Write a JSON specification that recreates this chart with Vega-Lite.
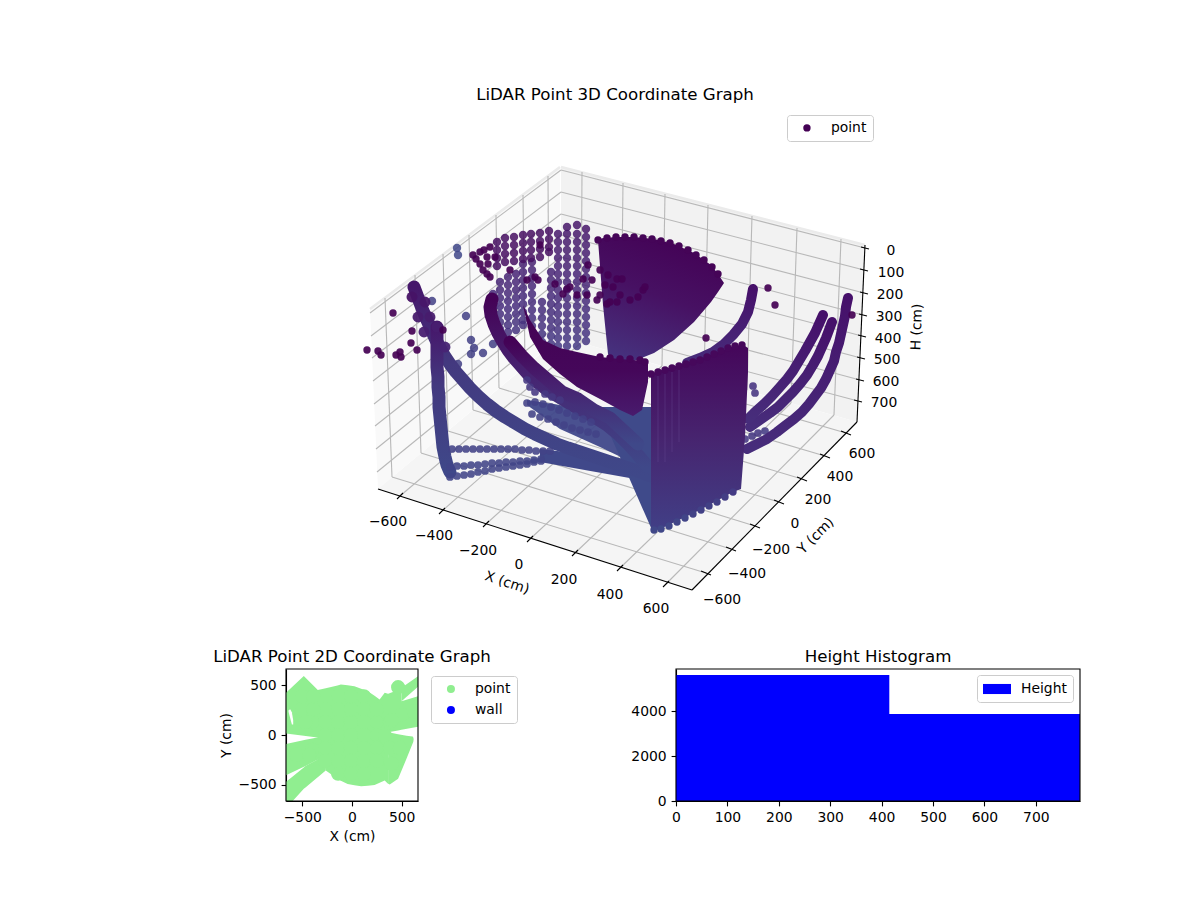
{"$schema":"https://vega.github.io/schema/vega-lite/v6.json","padding":{"left":213,"top":87,"right":10,"bottom":10},"background":"white","bounds":"flush","spacing":27,
"resolve":{"scale":{"color":"independent"},"legend":{"color":"independent"}},
"config":{"font":"DejaVu Sans","view":{"stroke":null},"title":{"fontSize":16.67,"fontWeight":"normal","font":"DejaVu Sans","color":"black"},"axis":{"grid":false,"labelFontSize":13.9,"titleFontSize":13.9,"titleFontWeight":"normal","labelColor":"black","titleColor":"black","tickColor":"black","domainColor":"black","tickSize":4.9,"tickWidth":1.1,"domainWidth":1.1,"labelFlush":false,"labelOverlap":false,"labelPadding":4.9,"titlePadding":5},"legend":{"labelFontSize":13.9,"labelColor":"black"}},
"datasets":{
"far":[{"u":-42,"v":168,"h":230},{"u":-42,"v":160,"h":254},{"u":-42,"v":152,"h":278},{"u":-42,"v":144,"h":302},{"u":-42,"v":136,"h":326},{"u":-42,"v":128,"h":350},{"u":-42,"v":120,"h":374},{"u":-42,"v":112,"h":398},{"u":-42,"v":104,"h":422},{"u":-42,"v":96,"h":446},{"u":-42,"v":88,"h":470},{"u":-42,"v":80,"h":494},{"u":-42,"v":72,"h":518},{"u":-42,"v":64,"h":542},{"u":-42,"v":56,"h":566},
{"u":-33,"v":175,"h":210},{"u":-33,"v":168,"h":230},{"u":-33,"v":160,"h":254},{"u":-33,"v":152,"h":278},{"u":-33,"v":144,"h":302},{"u":-33,"v":136,"h":326},{"u":-33,"v":128,"h":350},{"u":-33,"v":120,"h":374},{"u":-33,"v":112,"h":398},{"u":-33,"v":104,"h":422},{"u":-33,"v":96,"h":446},{"u":-33,"v":88,"h":470},{"u":-33,"v":80,"h":494},{"u":-33,"v":72,"h":518},{"u":-33,"v":64,"h":542},{"u":-33,"v":56,"h":566},
{"u":-23,"v":177,"h":210},{"u":-23,"v":168,"h":230},{"u":-23,"v":160,"h":254},{"u":-23,"v":152,"h":278},{"u":-23,"v":144,"h":302},{"u":-23,"v":136,"h":326},{"u":-23,"v":128,"h":350},{"u":-23,"v":120,"h":374},{"u":-23,"v":112,"h":398},{"u":-23,"v":104,"h":422},{"u":-23,"v":96,"h":446},{"u":-23,"v":88,"h":470},{"u":-23,"v":80,"h":494},{"u":-23,"v":72,"h":518},{"u":-23,"v":64,"h":542},{"u":-23,"v":56,"h":566},
{"u":-14,"v":173,"h":210},{"u":-14,"v":165,"h":240},{"u":-14,"v":157,"h":260},{"u":-14,"v":149,"h":285},{"u":-14,"v":141,"h":310},{"u":-14,"v":133,"h":335},{"u":-14,"v":125,"h":360},{"u":-14,"v":117,"h":385},{"u":-14,"v":109,"h":410},{"u":-14,"v":101,"h":430},{"u":-14,"v":93,"h":455},{"u":-14,"v":85,"h":480},{"u":-14,"v":77,"h":505},{"u":-14,"v":69,"h":525},{"u":-14,"v":61,"h":550},
{"u":-107,"v":108,"h":410},{"u":-107,"v":100,"h":434},{"u":-107,"v":93,"h":455},
{"u":-100,"v":120,"h":374},{"u":-100,"v":112,"h":398},{"u":-100,"v":104,"h":422},{"u":-100,"v":96,"h":446},{"u":-100,"v":88,"h":470},{"u":-100,"v":80,"h":494},{"u":-100,"v":73,"h":515},
{"u":-92,"v":125,"h":359},{"u":-92,"v":117,"h":383},{"u":-92,"v":109,"h":407},{"u":-92,"v":101,"h":431},{"u":-92,"v":93,"h":455},{"u":-92,"v":85,"h":479},{"u":-92,"v":77,"h":503},{"u":-92,"v":70,"h":524},
{"u":-84,"v":128,"h":350},{"u":-84,"v":120,"h":374},{"u":-84,"v":112,"h":398},{"u":-84,"v":104,"h":422},{"u":-84,"v":96,"h":446},{"u":-84,"v":88,"h":470},{"u":-84,"v":80,"h":494},{"u":-84,"v":72,"h":518},
{"u":-77,"v":138,"h":320},{"u":-77,"v":130,"h":344},{"u":-77,"v":122,"h":368},{"u":-77,"v":114,"h":392},{"u":-77,"v":106,"h":416},{"u":-77,"v":98,"h":440},{"u":-77,"v":90,"h":464},{"u":-77,"v":82,"h":488},{"u":-77,"v":77,"h":503},
{"u":-68,"v":140,"h":314},{"u":-68,"v":132,"h":338},{"u":-68,"v":124,"h":362},{"u":-68,"v":116,"h":386},{"u":-68,"v":108,"h":410},{"u":-68,"v":100,"h":434},{"u":-68,"v":92,"h":458},{"u":-68,"v":84,"h":482},{"u":-68,"v":76,"h":506},
{"u":-58,"v":100,"h":434},{"u":-58,"v":92,"h":458},{"u":-58,"v":84,"h":482},{"u":-58,"v":76,"h":506},{"u":-58,"v":68,"h":530},{"u":-58,"v":60,"h":554},{"u":-58,"v":53,"h":575},
{"u":-49,"v":130,"h":344},{"u":-49,"v":122,"h":368},{"u":-49,"v":114,"h":392},{"u":-49,"v":106,"h":416},{"u":-49,"v":98,"h":440},{"u":-49,"v":90,"h":464},{"u":-49,"v":82,"h":488},{"u":-49,"v":74,"h":512},{"u":-49,"v":66,"h":536},{"u":-49,"v":58,"h":560},{"u":-49,"v":50,"h":584},
{"u":-103,"v":160,"h":130},{"u":-103,"v":152,"h":130},{"u":-103,"v":144,"h":130},{"u":-103,"v":136,"h":130},{"u":-95,"v":164,"h":130},{"u":-95,"v":156,"h":130},{"u":-95,"v":148,"h":130},{"u":-95,"v":140,"h":130},{"u":-86,"v":165,"h":130},{"u":-86,"v":157,"h":130},{"u":-86,"v":149,"h":130},{"u":-86,"v":141,"h":130},{"u":-77,"v":167,"h":130},{"u":-77,"v":159,"h":130},{"u":-77,"v":151,"h":130},{"u":-77,"v":143,"h":130},{"u":-69,"v":168,"h":130},{"u":-69,"v":160,"h":130},{"u":-69,"v":152,"h":130},{"u":-69,"v":144,"h":130},{"u":-60,"v":169,"h":130},{"u":-60,"v":161,"h":130},{"u":-60,"v":153,"h":130},{"u":-60,"v":145,"h":130},{"u":-51,"v":171,"h":130},{"u":-51,"v":163,"h":130},{"u":-51,"v":155,"h":130},{"u":-51,"v":150,"h":130},
{"u":-143,"v":154,"h":720},{"u":-142,"v":147,"h":720},{"u":-168,"v":101,"h":650},{"u":-134,"v":86,"h":650},{"u":-129,"v":62,"h":650},{"u":-126,"v":54,"h":650},{"u":-129,"v":48,"h":650},{"u":-117,"v":49,"h":650},{"u":-107,"v":58,"h":650},{"u":-142,"v":38,"h":650}],
"arcL":[{"s":"a","u":-186,"v":115},{"s":"a","u":-183,"v":107},{"s":"a","u":-180,"v":99},{"s":"a","u":-177,"v":91},{"s":"a","u":-173,"v":82},{"s":"a","u":-169,"v":73},{"s":"a","u":-165,"v":64},{"s":"a","u":-161,"v":56},{"s":"a","u":-156,"v":47},{"s":"a","u":-150,"v":38},{"s":"a","u":-144,"v":30},{"s":"a","u":-137,"v":22},{"s":"a","u":-130,"v":14},{"s":"a","u":-122,"v":6},{"s":"a","u":-113,"v":-2},{"s":"a","u":-104,"v":-9},{"s":"a","u":-95,"v":-15},{"s":"a","u":-85,"v":-21},{"s":"a","u":-75,"v":-27},{"s":"a","u":-65,"v":-32},{"s":"a","u":-54,"v":-37},{"s":"a","u":-43,"v":-42},{"s":"a","u":-32,"v":-46},{"s":"a","u":-20,"v":-50},{"s":"a","u":-8,"v":-54},{"s":"a","u":4,"v":-58},{"s":"a","u":16,"v":-62},{"s":"a","u":28,"v":-66},{"s":"a","u":40,"v":-70},{"s":"a","u":50,"v":-74},
{"s":"b","u":-163,"v":75},{"s":"b","u":-163,"v":55},{"s":"b","u":-163,"v":45},{"s":"b","u":-163,"v":35},{"s":"b","u":-162,"v":25},{"s":"b","u":-162,"v":15},{"s":"b","u":-161,"v":5},{"s":"b","u":-161,"v":-5},{"s":"b","u":-160,"v":-15},{"s":"b","u":-159,"v":-25},{"s":"b","u":-158,"v":-35},{"s":"b","u":-157,"v":-45},{"s":"b","u":-155,"v":-55},{"s":"b","u":-153,"v":-63},{"s":"b","u":-150,"v":-70}],
"arcL3":[{"s":"a","u":-108,"v":103},{"s":"a","u":-110,"v":95},{"s":"a","u":-109,"v":87},{"s":"a","u":-106,"v":78},{"s":"a","u":-102,"v":69},{"s":"a","u":-97,"v":60},{"s":"a","u":-92,"v":52},{"s":"a","u":-86,"v":44},{"s":"a","u":-79,"v":36},{"s":"a","u":-72,"v":28},{"s":"a","u":-64,"v":21},{"s":"a","u":-55,"v":14},{"s":"a","u":-46,"v":8},{"s":"a","u":-36,"v":2},{"s":"a","u":-26,"v":-4},{"s":"a","u":-15,"v":-10},{"s":"a","u":-4,"v":-16},{"s":"a","u":7,"v":-23},{"s":"a","u":18,"v":-32},{"s":"a","u":28,"v":-42},{"s":"a","u":38,"v":-53},{"s":"a","u":48,"v":-65},
{"s":"b","u":-90,"v":60},{"s":"b","u":-78,"v":46},{"s":"b","u":-66,"v":34},{"s":"b","u":-52,"v":22},{"s":"b","u":-38,"v":10},{"s":"b","u":-22,"v":3},{"s":"b","u":-6,"v":-8},{"s":"b","u":10,"v":-16},{"s":"b","u":25,"v":-30},{"s":"b","u":38,"v":-42}],
"arcR":[{"s":"a","u":248,"v":104},{"s":"a","u":246,"v":95},{"s":"a","u":245,"v":86},{"s":"a","u":243,"v":77},{"s":"a","u":241,"v":68},{"s":"a","u":239,"v":59},{"s":"a","u":236,"v":50},{"s":"a","u":234,"v":41},{"s":"a","u":230,"v":32},{"s":"a","u":226,"v":23},{"s":"a","u":221,"v":14},{"s":"a","u":215,"v":6},{"s":"a","u":209,"v":-2},{"s":"a","u":202,"v":-10},{"s":"a","u":194,"v":-17},{"s":"a","u":186,"v":-23},{"s":"a","u":177,"v":-30},{"s":"a","u":167,"v":-37},{"s":"a","u":157,"v":-42},{"s":"a","u":147,"v":-47},
{"s":"b","u":232,"v":80},{"s":"b","u":229,"v":72},{"s":"b","u":226,"v":64},{"s":"b","u":222,"v":55},{"s":"b","u":218,"v":46},{"s":"b","u":213,"v":37},{"s":"b","u":207,"v":27},{"s":"b","u":200,"v":18},{"s":"b","u":193,"v":10},{"s":"b","u":186,"v":3},{"s":"b","u":178,"v":-5},{"s":"b","u":170,"v":-11},{"s":"b","u":160,"v":-18},{"s":"b","u":150,"v":-25},
{"s":"c","u":223,"v":87},{"s":"c","u":219,"v":78},{"s":"c","u":215,"v":69},{"s":"c","u":210,"v":60},{"s":"c","u":205,"v":51},{"s":"c","u":199,"v":41},{"s":"c","u":193,"v":31},{"s":"c","u":187,"v":23},{"s":"c","u":180,"v":15},{"s":"c","u":172,"v":6},{"s":"c","u":164,"v":-2},{"s":"c","u":155,"v":-10},{"s":"c","u":148,"v":-17},
{"s":"d","u":153,"v":113},{"s":"d","u":151,"v":102},{"s":"d","u":148,"v":90},{"s":"d","u":142,"v":78},{"s":"d","u":133,"v":67},{"s":"d","u":124,"v":58},{"s":"d","u":113,"v":50},{"s":"d","u":100,"v":44},{"s":"d","u":87,"v":39}],
"midPts":[{"u":-175,"v":100,"h":200},{"u":-170,"v":85,"h":250},{"u":-163,"v":75,"h":280},{"u":-155,"v":55,"h":340},{"u":-188,"v":105,"h":170},{"u":-182,"v":85,"h":240},{"u":-176,"v":70,"h":300}],
"smallA":[{"u":-148,"v":-47,"h":680},{"u":-141,"v":-47,"h":680},{"u":-134,"v":-47,"h":680},{"u":-127,"v":-47,"h":680},{"u":-120,"v":-47,"h":680},{"u":-113,"v":-47,"h":680},{"u":-106,"v":-47,"h":680},{"u":-99,"v":-47,"h":680},{"u":-92,"v":-47,"h":680},{"u":-85,"v":-47,"h":680},{"u":-78,"v":-48,"h":680},{"u":-71,"v":-48,"h":680},{"u":-64,"v":-49,"h":680},{"u":-57,"v":-49,"h":680},{"u":-50,"v":-49,"h":680},
{"u":-150,"v":-65,"h":700},{"u":-143,"v":-64,"h":700},{"u":-136,"v":-64,"h":700},{"u":-129,"v":-63,"h":700},{"u":-122,"v":-63,"h":700},{"u":-115,"v":-62,"h":700},{"u":-108,"v":-61,"h":700},{"u":-101,"v":-61,"h":700},{"u":-94,"v":-60,"h":700},{"u":-87,"v":-60,"h":700},{"u":-80,"v":-59,"h":700},{"u":-73,"v":-59,"h":700},{"u":-66,"v":-58,"h":700},{"u":-59,"v":-57,"h":700},
{"u":-150,"v":-75,"h":700},{"u":-143,"v":-74,"h":700},{"u":-136,"v":-73,"h":700},{"u":-129,"v":-72,"h":700},{"u":-122,"v":-70,"h":700},{"u":-115,"v":-69,"h":700},{"u":-108,"v":-67,"h":700},{"u":-101,"v":-66,"h":700},{"u":-94,"v":-65,"h":700},{"u":-87,"v":-64,"h":700},{"u":-80,"v":-63,"h":700},{"u":-73,"v":-62,"h":700},{"u":-66,"v":-60,"h":700},{"u":-59,"v":-59,"h":700},
{"u":-73,"v":-1,"h":660},{"u":-65,"v":0,"h":660},{"u":-57,"v":-2,"h":660},{"u":-49,"v":-5,"h":660},{"u":-41,"v":-8,"h":660},{"u":-33,"v":-11,"h":660},{"u":-25,"v":-14,"h":660},{"u":-17,"v":-17,"h":660},{"u":-9,"v":-20,"h":660},
{"u":-68,"v":-12,"h":680},{"u":-60,"v":-15,"h":680},{"u":-52,"v":-17,"h":680},{"u":-44,"v":-20,"h":680},{"u":-36,"v":-23,"h":680},{"u":-28,"v":-26,"h":680},{"u":-20,"v":-28,"h":680},{"u":-12,"v":-30,"h":680},{"u":-4,"v":-32,"h":680},
{"u":-73,"v":22,"h":560},{"u":-70,"v":15,"h":560},{"u":-65,"v":10,"h":560},{"u":-55,"v":8,"h":560},{"u":-48,"v":5,"h":560},{"u":-40,"v":2,"h":560},
{"u":153,"v":16,"h":500},{"u":155,"v":9,"h":520},{"u":145,"v":-37,"h":560},{"u":152,"v":-34,"h":560},{"u":158,"v":-31,"h":560},{"u":165,"v":-29,"h":600}],
"sheetS":[{"u":-2,"v":162,"h":40},{"u":7,"v":164,"h":40},{"u":16,"v":165,"h":40},{"u":25,"v":165,"h":40},{"u":34,"v":165,"h":35},{"u":43,"v":164,"h":35},{"u":52,"v":163,"h":35},{"u":61,"v":161,"h":30},{"u":70,"v":159,"h":30},{"u":79,"v":156,"h":30},{"u":88,"v":152,"h":30},{"u":96,"v":147,"h":30},{"u":104,"v":142,"h":30},{"u":112,"v":135,"h":30},{"u":118,"v":128,"h":30},
{"u":0,"v":45,"h":30},{"u":10,"v":44,"h":30},{"u":20,"v":43,"h":30},{"u":30,"v":43,"h":30},{"u":40,"v":42,"h":30},{"u":45,"v":40,"h":30},
{"u":51,"v":28,"h":60},{"u":58,"v":30,"h":60},{"u":65,"v":32,"h":60},{"u":72,"v":34,"h":60},{"u":79,"v":36,"h":60},{"u":86,"v":38,"h":60},{"u":93,"v":40,"h":60},{"u":100,"v":42,"h":60},{"u":107,"v":45,"h":60},{"u":114,"v":48,"h":60},{"u":121,"v":51,"h":60},{"u":128,"v":54,"h":60},{"u":135,"v":56,"h":60},{"u":142,"v":57,"h":60},
{"u":133,"v":-90,"h":600},{"u":125,"v":-95,"h":620},{"u":117,"v":-100,"h":640},{"u":109,"v":-104,"h":650},{"u":101,"v":-108,"h":670},{"u":93,"v":-112,"h":680},{"u":85,"v":-116,"h":700},{"u":77,"v":-120,"h":710},{"u":69,"v":-124,"h":720},{"u":61,"v":-127,"h":730},{"u":54,"v":-128,"h":740}],
"dark":[{"u":-207,"v":89},{"u":-233,"v":52},{"u":-222,"v":51},{"u":-219,"v":47},{"u":-204,"v":47},{"u":-200,"v":50},{"u":-199,"v":45},{"u":-189,"v":59},{"u":-188,"v":71},{"u":-183,"v":52},{"u":-157,"v":72},{"u":-60,"v":157},{"u":168,"v":114},{"u":175,"v":97},{"u":252,"v":87},{"u":106,"v":64},
{"u":-127,"v":147},{"u":-124,"v":143},{"u":-120,"v":150},{"u":-116,"v":152},{"u":-120,"v":138},{"u":-117,"v":132},{"u":-113,"v":128},{"u":-110,"v":125},{"u":-113,"v":145},{"u":-112,"v":138},{"u":-110,"v":155},{"u":-105,"v":145},
{"u":-33,"v":113},{"u":-30,"v":115},{"u":-17,"v":123},{"u":-8,"v":122},{"u":0,"v":132},{"u":8,"v":127},{"u":17,"v":123},{"u":-37,"v":108},{"u":-23,"v":107},{"u":-13,"v":107},{"u":-3,"v":102},{"u":7,"v":98},{"u":17,"v":100},{"u":-12,"v":137},{"u":-45,"v":118},{"u":-65,"v":125},{"u":-73,"v":122},{"u":-62,"v":122},{"u":-90,"v":132},{"u":22,"v":123},{"u":20,"v":107},{"u":30,"v":102},{"u":38,"v":105},{"u":43,"v":112},{"u":45,"v":115},{"u":10,"v":100},{"u":0,"v":107},{"u":13,"v":115},{"u":5,"v":117}],
"grid":[{"u":-200,"v":-94,"a":-19,"b":59},{"u":-158,"v":-109,"a":21,"b":48},{"u":-114,"v":-122,"a":62,"b":36},{"u":-70,"v":-137,"a":104,"b":24},{"u":-25,"v":-151,"a":147,"b":12},{"u":20,"v":-166,"a":191,"b":-1},{"u":66,"v":-182,"a":234,"b":-13},
{"u":-19,"v":59,"a":-18,"b":230},{"u":21,"v":48,"a":23,"b":219},{"u":62,"v":36,"a":65,"b":208},{"u":104,"v":24,"a":108,"b":197},{"u":147,"v":12,"a":152,"b":186},{"u":191,"v":-1,"a":197,"b":174},{"u":234,"v":-13,"a":241,"b":163},
{"u":106,"v":-171,"a":-208,"b":-75},{"u":131,"v":-147,"a":-179,"b":-51},{"u":155,"v":-124,"a":-152,"b":-29},{"u":179,"v":-100,"a":-127,"b":-8},{"u":202,"v":-77,"a":-101,"b":14},{"u":225,"v":-54,"a":-75,"b":35},{"u":246,"v":-31,"a":-51,"b":55},
{"u":-208,"v":-75,"a":-215,"b":104},{"u":-179,"v":-51,"a":-185,"b":127},{"u":-152,"v":-29,"a":-157,"b":148},{"u":-127,"v":-8,"a":-131,"b":167},{"u":-101,"v":14,"a":-104,"b":187},{"u":-75,"v":35,"a":-77,"b":207},{"u":-51,"v":55,"a":-52,"b":226},
{"u":-230,"v":89,"a":-39,"b":232},{"u":-229,"v":66,"a":-39,"b":210},{"u":-228,"v":44,"a":-39,"b":188},{"u":-227,"v":21,"a":-39,"b":167},{"u":-226,"v":-2,"a":-39,"b":145},{"u":-225,"v":-24,"a":-39,"b":123},{"u":-224,"v":-47,"a":-39,"b":102},{"u":-223,"v":-70,"a":-39,"b":80},
{"u":-39,"v":232,"a":265,"b":154},{"u":-39,"v":210,"a":264,"b":132},{"u":-39,"v":188,"a":264,"b":109},{"u":-39,"v":167,"a":263,"b":87},{"u":-39,"v":145,"a":262,"b":66},{"u":-39,"v":123,"a":261,"b":44},{"u":-39,"v":102,"a":260,"b":22},{"u":-39,"v":80,"a":258,"b":1}],
"axes3d":[{"u":-222,"v":-87,"a":92,"b":-188},{"u":92,"v":-188,"a":257,"b":-20},{"u":257,"v":-20,"a":265,"b":157},
{"u":-203,"v":-97,"a":-197,"b":-91},{"u":-161,"v":-112,"a":-155,"b":-106},{"u":-117,"v":-125,"a":-111,"b":-119},{"u":-73,"v":-140,"a":-67,"b":-134},{"u":-28,"v":-154,"a":-22,"b":-148},{"u":17,"v":-169,"a":23,"b":-163},{"u":63,"v":-185,"a":69,"b":-179},
{"u":101,"v":-169,"a":111,"b":-173},{"u":126,"v":-145,"a":136,"b":-149},{"u":150,"v":-122,"a":160,"b":-126},{"u":174,"v":-98,"a":184,"b":-102},{"u":197,"v":-75,"a":207,"b":-79},{"u":220,"v":-52,"a":230,"b":-56},{"u":241,"v":-29,"a":251,"b":-33},
{"u":261,"v":155,"a":269,"b":153},{"u":260,"v":133,"a":268,"b":131},{"u":260,"v":110,"a":268,"b":108},{"u":259,"v":88,"a":267,"b":86},{"u":258,"v":67,"a":266,"b":65},{"u":257,"v":45,"a":265,"b":43},{"u":256,"v":23,"a":264,"b":21},{"u":254,"v":2,"a":262,"b":0}],
"labels3d":[{"u":-212,"v":-120,"t":"−600"},{"u":-166,"v":-134,"t":"−400"},{"u":-122,"v":-149,"t":"−200"},{"u":-81,"v":-163,"t":"0"},{"u":-36,"v":-178,"t":"200"},{"u":10,"v":-193,"t":"400"},{"u":56,"v":-207,"t":"600"},
{"u":122,"v":-198,"t":"−600"},{"u":147,"v":-172,"t":"−400"},{"u":171,"v":-148,"t":"−200"},{"u":195,"v":-122,"t":"0"},{"u":218,"v":-98,"t":"200"},{"u":240,"v":-75,"t":"400"},{"u":262,"v":-52,"t":"600"},
{"u":291,"v":151,"t":"0"},{"u":291,"v":129,"t":"100"},{"u":290,"v":107,"t":"200"},{"u":289,"v":85,"t":"300"},{"u":288,"v":63,"t":"400"},{"u":287,"v":42,"t":"500"},{"u":286,"v":20,"t":"600"},{"u":284,"v":-1,"t":"700"}],
"cover":[{"X":-400,"Y":130},{"X":-270,"Y":130},{"X":-140,"Y":130},{"X":-10,"Y":130},{"X":120,"Y":130},{"X":250,"Y":130},{"X":380,"Y":130},{"X":-270,"Y":0},{"X":-140,"Y":0},{"X":-10,"Y":0},{"X":120,"Y":0},{"X":250,"Y":0},{"X":330,"Y":-5},{"X":-400,"Y":-150},{"X":-270,"Y":-130},{"X":-140,"Y":-130},{"X":-10,"Y":-130},{"X":120,"Y":-130},{"X":250,"Y":-130},{"X":380,"Y":-130},{"X":-270,"Y":260},{"X":-140,"Y":260},{"X":-10,"Y":260},{"X":120,"Y":260},{"X":250,"Y":260},{"X":-270,"Y":-260},{"X":-140,"Y":-260},{"X":-10,"Y":-260},{"X":120,"Y":-260},{"X":250,"Y":-260},{"X":-140,"Y":390},{"X":-10,"Y":390},{"X":120,"Y":390},{"X":-140,"Y":-390},{"X":-10,"Y":-390},{"X":120,"Y":-390},{"X":-470,"Y":130},{"X":-500,"Y":260},{"X":-500,"Y":390},{"X":-390,"Y":260},{"X":-390,"Y":390},{"X":-560,"Y":-200},{"X":-430,"Y":-200},{"X":500,"Y":200},{"X":620,"Y":240},{"X":400,"Y":150},{"X":480,"Y":-130},{"X":400,"Y":-290},{"X":464,"Y":481}],
"outline":[{"p":"a","X":-666,"Y":424,"W":16},{"p":"a","X":-485,"Y":593,"W":-7},{"p":"a","X":-349,"Y":457,"W":-24},{"p":"a","X":-345,"Y":452,"W":-30},{"p":"a","X":-264,"Y":470,"W":-356},{"p":"a","X":-146,"Y":497,"W":-441},{"p":"a","X":-112,"Y":508,"W":-460},{"p":"a","X":-44,"Y":500,"W":-492},{"p":"a","X":24,"Y":491,"W":-505},{"p":"a","X":92,"Y":465,"W":-515},{"p":"a","X":159,"Y":441,"W":-510},{"p":"a","X":227,"Y":395,"W":-502},{"p":"a","X":278,"Y":356,"W":-480},{"p":"a","X":329,"Y":424,"W":-458},{"p":"a","X":362,"Y":415,"W":-490},{"p":"a","X":364,"Y":415,"W":27},{"p":"a","X":464,"Y":453,"W":46},{"p":"a","X":497,"Y":475,"W":52},{"p":"a","X":498,"Y":339,"W":53},{"p":"a","X":668,"Y":390,"W":85},
{"p":"b","X":498,"Y":476,"W":339},{"p":"b","X":668,"Y":593,"W":490},
{"p":"c","X":363,"Y":27,"W":-490},{"p":"c","X":380,"Y":24,"W":-498},{"p":"c","X":464,"Y":8,"W":-440},{"p":"c","X":549,"Y":-8,"W":-237},{"p":"c","X":610,"Y":-16,"W":-85},{"p":"c","X":617,"Y":-25,"W":-68},{"p":"c","X":620,"Y":-40,"W":-45},
{"p":"d","X":-666,"Y":-91,"W":-405},{"p":"d","X":-468,"Y":-48,"W":-312},{"p":"d","X":-349,"Y":-24,"W":-250},{"p":"d","X":-300,"Y":-30,"W":-300},
{"p":"e","X":-666,"Y":-473,"W":-720},{"p":"e","X":-603,"Y":-422,"W":-671},{"p":"e","X":-485,"Y":-326,"W":-542},{"p":"e","X":-468,"Y":-312,"W":-528},{"p":"e","X":-264,"Y":-200,"W":-356}],
"hole":[{"X":-638,"Y":250,"W":235},{"X":-622,"Y":260,"W":170},{"X":-605,"Y":230,"W":105},{"X":-592,"Y":150,"W":105}]
},
"vconcat":[
{"width":794,"height":534,"title":{"text":"LiDAR Point 3D Coordinate Graph","dx":-68,"offset":4},
"encoding":{"x":{"field":"u","type":"quantitative","scale":{"domain":[-314,480],"nice":false,"zero":false},"axis":null},"y":{"field":"v","type":"quantitative","scale":{"domain":[-240,294],"nice":false,"zero":false},"axis":null}},
"resolve":{"scale":{"color":"independent"}},
"layer":[
{"data":{"values":[{"u":-230,"v":93,"w":93},{"u":-222,"v":99,"w":-87},{"u":-40,"v":235,"w":65}]},"mark":{"type":"area","color":"#f9f9f9"},"encoding":{"y2":{"field":"w"}}},
{"data":{"values":[{"u":-39,"v":235,"w":65},{"u":257,"v":159,"w":-20},{"u":265,"v":157,"w":157}]},"mark":{"type":"area","color":"#f2f2f2"},"encoding":{"y2":{"field":"w"}}},
{"data":{"values":[{"u":-222,"v":-87,"w":-87},{"u":-39,"v":65,"w":-146},{"u":92,"v":27,"w":-188},{"u":257,"v":-20,"w":-20}]},"mark":{"type":"area","color":"#f5f5f5"},"encoding":{"y2":{"field":"w"}}},
{"data":{"values":[{"u":-230,"v":93,"a":-40,"b":235},{"u":-39,"v":235,"a":265,"b":157}]},"mark":{"type":"rule","color":"#ebebeb","strokeWidth":2.5},"encoding":{"x2":{"field":"a"},"y2":{"field":"b"}}},
{"data":{"name":"grid"},"mark":{"type":"rule","color":"#b8b8b8","strokeWidth":1.1},"encoding":{"x2":{"field":"a"},"y2":{"field":"b"}}},
{"data":{"name":"axes3d"},"mark":{"type":"rule","color":"black","strokeWidth":1.1},"encoding":{"x2":{"field":"a"},"y2":{"field":"b"}}},
{"data":{"name":"labels3d"},"mark":{"type":"text","fontSize":13.9,"color":"black","align":"center","baseline":"middle"},"encoding":{"text":{"field":"t"}}},
{"data":{"values":[{"u":-93,"v":-181,"t":"X (cm)"}]},"mark":{"type":"text","fontSize":13.9,"color":"black","angle":18,"align":"center","baseline":"middle"},"encoding":{"text":{"field":"t"}}},
{"data":{"values":[{"u":216,"v":-134,"t":"Y (cm)"}]},"mark":{"type":"text","fontSize":13.9,"color":"black","angle":315,"align":"center","baseline":"middle"},"encoding":{"text":{"field":"t"}}},
{"data":{"values":[{"u":317,"v":75,"t":"H (cm)"}]},"mark":{"type":"text","fontSize":13.9,"color":"black","angle":272,"align":"center","baseline":"middle"},"encoding":{"text":{"field":"t"}}},
{"data":{"name":"far"},"mark":{"type":"circle","size":70,"opacity":0.85},"encoding":{"color":{"field":"h","type":"quantitative","legend":null,"scale":{"scheme":"viridis","domain":[0,3500]}}}},
{"data":{"values":[{"u":-73,"v":2,"w":-3},{"u":-40,"v":-3,"w":-27},{"u":0,"v":-15,"w":-45},{"u":52,"v":-25,"w":-70}]},"mark":{"type":"area","color":"#40488a","opacity":0.95},"encoding":{"y2":{"field":"w"}}},
{"data":{"values":[{"u":-60,"v":-47,"w":-60},{"u":52,"v":-60,"w":-80}]},"mark":{"type":"area","color":"#40488a"},"encoding":{"y2":{"field":"w"}}},
{"data":{"values":[{"u":-2,"v":-5,"w":-5},{"u":52,"v":-5,"w":-128}]},"mark":{"type":"area","color":"#3f4a8a"},"encoding":{"y2":{"field":"w"}}},
{"data":{"name":"arcL"},"mark":{"type":"line","strokeWidth":13,"strokeCap":"round","strokeJoin":"round","stroke":{"gradient":"linear","x1":0,"y1":0,"x2":0,"y2":1,"stops":[{"offset":0,"color":"#46176b"},{"offset":0.4,"color":"#43397f"},{"offset":1,"color":"#3f4889"}]}},"encoding":{"detail":{"field":"s"},"order":{"value":null}}},
{"data":{"name":"arcL3"},"mark":{"type":"line","strokeWidth":13,"strokeCap":"round","strokeJoin":"round","stroke":{"gradient":"linear","x1":0,"y1":0,"x2":0,"y2":1,"stops":[{"offset":0,"color":"#440256"},{"offset":0.4,"color":"#47206f"},{"offset":1,"color":"#3f4889"}]}},"encoding":{"detail":{"field":"s"},"order":{"value":null}}},
{"data":{"name":"midPts"},"mark":{"type":"circle","size":120,"opacity":0.95},"encoding":{"color":{"field":"h","type":"quantitative","legend":null,"scale":{"scheme":"viridis","domain":[0,3500]}}}},
{"data":{"name":"smallA"},"mark":{"type":"circle","size":60,"opacity":0.88},"encoding":{"color":{"field":"h","type":"quantitative","legend":null,"scale":{"scheme":"viridis","domain":[0,3500]}}}},
{"data":{"name":"arcR"},"mark":{"type":"line","strokeWidth":10,"strokeCap":"round","strokeJoin":"round","stroke":{"gradient":"linear","x1":0,"y1":0,"x2":0,"y2":1,"stops":[{"offset":0,"color":"#46106a"},{"offset":1,"color":"#472d7b"}]}},"encoding":{"detail":{"field":"s"},"order":{"value":null}}},
{"data":{"values":[{"u":-2,"v":162,"w":162},{"u":3,"v":164,"w":97},{"u":8,"v":164,"w":48},{"u":14,"v":165,"w":38},{"u":34,"v":165,"w":41},{"u":54,"v":163,"w":49},{"u":74,"v":158,"w":62},{"u":94,"v":149,"w":80},{"u":111,"v":137,"w":100},{"u":118,"v":128,"w":110},{"u":124,"v":119,"w":119}]},"mark":{"type":"area","color":{"gradient":"linear","x1":0.6,"y1":0,"x2":0.25,"y2":1,"stops":[{"offset":0,"color":"#440256"},{"offset":0.45,"color":"#471163"},{"offset":1,"color":"#46337f"}]}},"encoding":{"y2":{"field":"w"}}},
{"data":{"values":[{"u":-77,"v":97,"w":97},{"u":-70,"v":82,"w":65},{"u":-57,"v":62,"w":43},{"u":-40,"v":54,"w":28},{"u":-23,"v":50,"w":15},{"u":0,"v":45,"w":3},{"u":20,"v":43,"w":-8},{"u":33,"v":42,"w":-14},{"u":42,"v":41,"w":-8},{"u":48,"v":38,"w":20}]},"mark":{"type":"area","color":{"gradient":"linear","x1":0,"y1":0,"x2":0,"y2":1,"stops":[{"offset":0,"color":"#440154"},{"offset":0.6,"color":"#45075a"},{"offset":1,"color":"#481b6d"}]}},"encoding":{"y2":{"field":"w"}}},
{"data":{"values":[{"u":51,"v":28,"w":-126},{"u":58,"v":31,"w":-128},{"u":100,"v":43,"w":-108},{"u":133,"v":56,"w":-90},{"u":141,"v":57,"w":-87},{"u":145,"v":56,"w":-35},{"u":148,"v":54,"w":30}]},"mark":{"type":"area","color":{"gradient":"linear","x1":0,"y1":0,"x2":0,"y2":1,"stops":[{"offset":0,"color":"#45065a"},{"offset":0.5,"color":"#47246f"},{"offset":1,"color":"#413f86"}]}},"encoding":{"y2":{"field":"w"}}},
{"data":{"values":[{"u":58,"v":26,"a":58,"b":-60},{"u":65,"v":28,"a":65,"b":-60},{"u":72,"v":30,"a":72,"b":-50},{"u":79,"v":32,"a":79,"b":-40}]},"mark":{"type":"rule","color":"#6a4f9a","opacity":0.45,"strokeWidth":0.8},"encoding":{"x2":{"field":"a"},"y2":{"field":"b"}}},
{"data":{"name":"sheetS"},"mark":{"type":"circle","size":54,"opacity":1},"encoding":{"color":{"field":"h","type":"quantitative","legend":null,"scale":{"scheme":"viridis","domain":[0,3500]}}}},
{"data":{"name":"dark"},"mark":{"type":"circle","size":54,"opacity":0.92},"encoding":{"color":{"datum":"point","scale":{"domain":["point"],"range":["#440154"]},"legend":{"title":null,"orient":"none","legendX":501,"legendY":7,"fillColor":"white","strokeColor":"#cccccc","cornerRadius":3,"padding":6,"symbolSize":54,"symbolOffset":7,"labelOffset":17,"symbolOpacity":1}}}}
]},
{"bounds":"flush","spacing":258,"resolve":{"scale":{"color":"independent"},"legend":{"color":"independent"}},"hconcat":[
{"width":132,"height":132,"title":{"text":"LiDAR Point 2D Coordinate Graph","offset":3},
"layer":[
{"data":{"name":"outline"},"mark":{"type":"area","color":"#90ee90","clip":true},"encoding":{"x":{"field":"X","type":"quantitative","title":"X (cm)","scale":{"domain":[-664,664],"nice":false,"zero":false},"axis":{"values":[-500,0,500]}},"y":{"field":"Y","type":"quantitative","title":"Y (cm)","scale":{"domain":[-664,664],"nice":false,"zero":false},"axis":{"values":[-500,0,500]}},"y2":{"field":"W"},"detail":{"field":"p"}}},
{"data":{"name":"hole"},"mark":{"type":"area","color":"white","clip":true},"encoding":{"x":{"field":"X","type":"quantitative"},"y":{"field":"Y","type":"quantitative"},"y2":{"field":"W"}}},
{"data":{"name":"cover"},"mark":{"type":"circle","size":200,"opacity":1,"clip":true},"encoding":{"x":{"field":"X","type":"quantitative"},"y":{"field":"Y","type":"quantitative"},"color":{"datum":"point","scale":{"domain":["point","wall"],"range":["#90ee90","#0000ff"]},"legend":{"title":null,"orient":"none","legendX":145,"legendY":7,"fillColor":"white","strokeColor":"#cccccc","cornerRadius":3,"padding":6,"rowPadding":6,"symbolSize":64,"symbolOffset":7,"labelOffset":17,"symbolOpacity":1}}}},
{"data":{"values":[{"p":1}]},"mark":{"type":"rect","fill":null,"stroke":"black","strokeWidth":1.1},"encoding":{"x":{"datum":-664},"x2":{"datum":664},"y":{"datum":-664},"y2":{"datum":664}}}
]},
{"width":404,"height":132,"title":{"text":"Height Histogram","offset":3},
"layer":[
{"data":{"values":[{"start":0,"end":415,"count":5600},{"start":414,"end":790,"count":3867}]},"mark":{"type":"rect","clip":true},"encoding":{"x":{"field":"start","type":"quantitative","title":null,"scale":{"domain":[0,786],"nice":false,"zero":false},"axis":{"values":[0,100,200,300,400,500,600,700]}},"x2":{"field":"end"},"y":{"field":"count","type":"quantitative","title":null,"scale":{"domain":[0,5867],"nice":false},"axis":{"values":[0,2000,4000],"format":"d"}},"y2":{"datum":0},"color":{"datum":"Height","scale":{"domain":["Height"],"range":["#0000ff"]},"legend":{"title":null,"orient":"none","legendX":301,"legendY":6,"fillColor":"white","strokeColor":"#cccccc","cornerRadius":3,"padding":6,"symbolType":"M-2,-0.72L2,-0.72L2,0.72L-2,0.72Z","symbolSize":196,"symbolOffset":6,"labelOffset":16}}}},
{"data":{"values":[{"p":1}]},"mark":{"type":"rect","fill":null,"stroke":"black","strokeWidth":1.1},"encoding":{"x":{"datum":0},"x2":{"datum":786},"y":{"datum":0},"y2":{"datum":5867}}}
]}
]}
]}
